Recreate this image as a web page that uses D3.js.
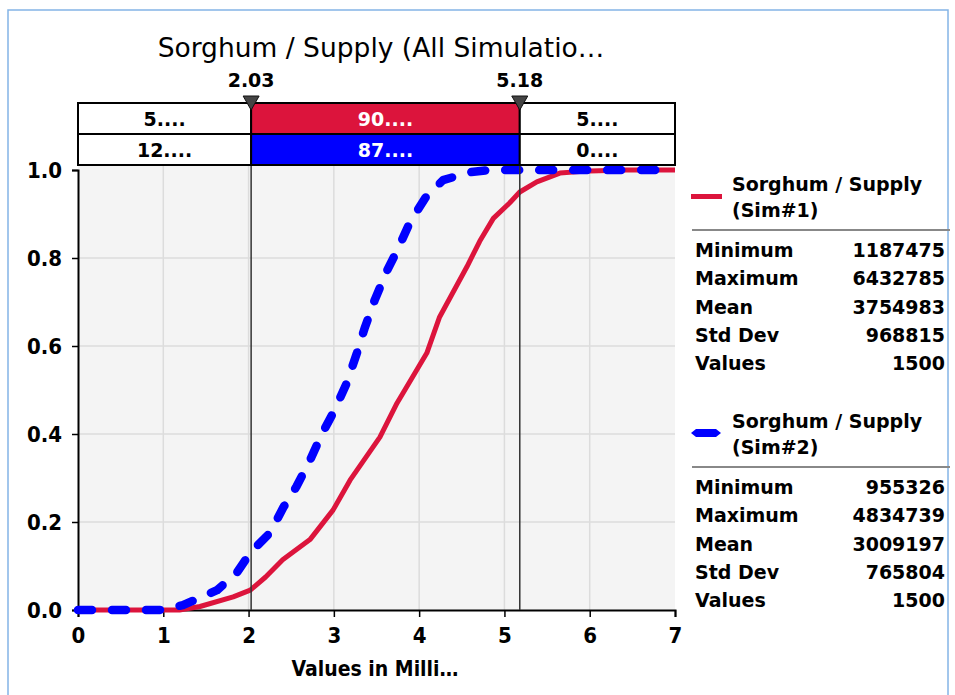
<!DOCTYPE html>
<html>
<head>
<meta charset="utf-8">
<script src="https://cdn.jsdelivr.net/npm/d3@7"></script>
<style>
  body { margin: 0; background: #fff; }
  text { font-family: "DejaVu Sans", Verdana, sans-serif; }
  .tick-lbl { font-family: "DejaVu Sans Condensed", "DejaVu Sans", sans-serif; font-weight: bold; font-size: 22px; }
</style>
</head>
<body>
<svg id="chart" width="955" height="695"></svg>
<script>
// cumulative curves, x in millions
var sim1X = [0, 1.19, 1.43, 1.82, 2.02, 2.2, 2.4, 2.72, 2.99, 3.19, 3.54, 3.74, 3.97, 4.09, 4.24, 4.56, 4.71, 4.87, 5.06, 5.18, 5.38, 5.65, 6.0, 6.43, 7];
var sim1P = [0, 0, 0.008, 0.03, 0.045, 0.075, 0.114, 0.16, 0.227, 0.295, 0.393, 0.47, 0.545, 0.584, 0.666, 0.78, 0.838, 0.89, 0.925, 0.95, 0.973, 0.993, 0.998, 1, 1];
var sim2X = [0, 0.955, 1.23, 1.63, 1.86, 2.02, 2.25, 2.41, 2.56, 2.72, 2.86, 3.01, 3.15, 3.27, 3.36, 3.48, 3.62, 3.75, 3.89, 4.07, 4.28, 4.6, 4.83, 7];
var sim2P = [0, 0, 0.011, 0.045, 0.084, 0.13, 0.175, 0.234, 0.28, 0.34, 0.40, 0.455, 0.515, 0.584, 0.64, 0.705, 0.77, 0.82, 0.88, 0.936, 0.977, 0.995, 1, 1];

var markers = [2.03, 5.18];
var row1Labels = ["5....", "90....", "5...."];
var row2Labels = ["12....", "87....", "0...."];

var xTicks = [0, 1, 2, 3, 4, 5, 6, 7];
var yTicks = [0, 0.2, 0.4, 0.6, 0.8, 1.0];

var statNames = ["Minimum", "Maximum", "Mean", "Std Dev", "Values"];
var sim1Stats = ["1187475", "6432785", "3754983", "968815", "1500"];
var sim2Stats = ["955326", "4834739", "3009197", "765804", "1500"];

var RED = "#dc143c", BLUE = "#0000ff";

var svg = d3.select("#chart");

// outer frame
svg.append("rect").attr("x", 8).attr("y", 10).attr("width", 940).attr("height", 700)
  .attr("fill", "none").attr("stroke", "#84b4e6").attr("stroke-width", 1.5);

var x = d3.scaleLinear().domain([0, 7]).range([78, 675]);
var y = d3.scaleLinear().domain([0, 1]).range([610, 170]);

// plot background
svg.append("rect").attr("x", x(0)).attr("y", 166).attr("width", x(7) - x(0)).attr("height", y(0) - 166)
  .attr("fill", "#f4f4f4");

// grid
svg.append("g").selectAll("line").data(xTicks.slice(1, -1)).join("line")
  .attr("x1", d => x(d)).attr("x2", d => x(d)).attr("y1", 166).attr("y2", y(0))
  .attr("stroke", "#dcdcdc").attr("stroke-width", 1.5);
svg.append("g").selectAll("line").data(yTicks.slice(1, -1)).join("line")
  .attr("x1", x(0)).attr("x2", x(7)).attr("y1", d => y(d)).attr("y2", d => y(d))
  .attr("stroke", "#dcdcdc").attr("stroke-width", 1.5);

// axes
var xAxis = svg.append("g").attr("transform", "translate(0," + y(0) + ")")
  .call(d3.axisBottom(x).tickValues(xTicks).tickFormat(d3.format("d")).tickSize(7).tickPadding(8));
var yAxis = svg.append("g").attr("transform", "translate(" + x(0) + ",0)")
  .call(d3.axisLeft(y).tickValues(yTicks).tickFormat(d3.format(".1f")).tickSize(6).tickPadding(10));
[xAxis, yAxis].forEach(function (g) {
  g.select(".domain").attr("stroke", "#000").attr("stroke-width", 2);
  g.selectAll(".tick line").attr("stroke", "#000").attr("stroke-width", 1.5);
  g.selectAll(".tick text").attr("class", "tick-lbl").attr("fill", "#000");
});
xAxis.selectAll(".tick text").attr("dy", "0.8em");

svg.append("text").attr("x", 375).attr("y", 676).attr("text-anchor", "middle")
  .attr("class", "tick-lbl").style("font-size", "21px").text("Values in Milli…");

// curves
var line = d3.line().x(d => x(d[0])).y(d => y(d[1]));
svg.append("path").datum(d3.zip(sim1X, sim1P)).attr("d", line)
  .attr("fill", "none").attr("stroke", RED).attr("stroke-width", 5).attr("stroke-linejoin", "round");
svg.append("path").datum(d3.zip(sim2X, sim2P)).attr("d", line)
  .attr("fill", "none").attr("stroke", BLUE).attr("stroke-width", 8.5)
  .attr("stroke-dasharray", "14,20").attr("stroke-linecap", "round").attr("stroke-linejoin", "round");

// marker lines
svg.append("g").selectAll("line").data(markers).join("line")
  .attr("x1", d => x(d)).attr("x2", d => x(d)).attr("y1", 103).attr("y2", y(0))
  .attr("stroke", "#333").attr("stroke-width", 1.5);

// top boxes
var edges = [0, markers[0], markers[1], 7];
var rows = [
  { y0: 103, labels: row1Labels, mid: RED },
  { y0: 134, labels: row2Labels, mid: BLUE }
];
rows.forEach(function (r) {
  for (var i = 0; i < 3; i++) {
    svg.append("rect").attr("x", x(edges[i])).attr("y", r.y0)
      .attr("width", x(edges[i + 1]) - x(edges[i])).attr("height", 31)
      .attr("fill", i === 1 ? r.mid : "#fff").attr("stroke", "#000").attr("stroke-width", 2);
    svg.append("text").attr("x", (x(edges[i]) + x(edges[i + 1])) / 2).attr("y", r.y0 + 16)
      .attr("dy", "0.36em").attr("text-anchor", "middle")
      .attr("font-weight", "bold").attr("font-size", 19)
      .attr("fill", i === 1 ? "#fff" : "#000").text(r.labels[i]);
  }
});

// marker triangles + labels
markers.forEach(function (m) {
  var cx = x(m);
  svg.append("path").attr("d", "M" + (cx - 8) + ",96L" + (cx + 8) + ",96L" + cx + ",110Z")
    .attr("fill", "#444").attr("stroke", "#111").attr("stroke-width", 1);
  svg.append("text").attr("x", cx).attr("y", 80).attr("dy", "0.36em").attr("text-anchor", "middle")
    .attr("font-weight", "bold").attr("font-size", 19).text(d3.format(".2f")(m));
});

// title
svg.append("text").attr("x", 381).attr("y", 47).attr("dy", "0.36em").attr("text-anchor", "middle")
  .attr("font-size", 26.5).text("Sorghum / Supply (All Simulatio…");

// legend blocks
function legendBlock(top, name, stats, color, dashed) {
  var g = svg.append("g");
  if (dashed) {
    g.append("path").attr("d", "M691," + (top + 12) + "L696," + (top + 8) + "L716," + (top + 8) + "L721," + (top + 12) + "L716," + (top + 16) + "L696," + (top + 16) + "Z")
      .attr("fill", color);
  } else {
    g.append("rect").attr("x", 691).attr("y", top + 10).attr("width", 31).attr("height", 5).attr("fill", color);
  }
  g.append("text").attr("x", 732).attr("y", top).attr("dy", "0.36em")
    .attr("font-weight", "bold").attr("font-size", 19).text("Sorghum / Supply");
  g.append("text").attr("x", 732).attr("y", top + 26).attr("dy", "0.36em")
    .attr("font-weight", "bold").attr("font-size", 19).text(name);
  g.append("line").attr("x1", 692).attr("x2", 950).attr("y1", top + 46).attr("y2", top + 46)
    .attr("stroke", "#888").attr("stroke-width", 2);
  statNames.forEach(function (s, i) {
    var ty = top + 66 + i * 28.4;
    g.append("text").attr("x", 695).attr("y", ty).attr("dy", "0.36em")
      .attr("font-weight", "bold").attr("font-size", 19).text(s);
    g.append("text").attr("x", 945).attr("y", ty).attr("dy", "0.36em").attr("text-anchor", "end")
      .attr("font-weight", "bold").attr("font-size", 19).text(stats[i]);
  });
}
legendBlock(184, "(Sim#1)", sim1Stats, RED, false);
legendBlock(421, "(Sim#2)", sim2Stats, BLUE, true);
</script>
</body>
</html>
